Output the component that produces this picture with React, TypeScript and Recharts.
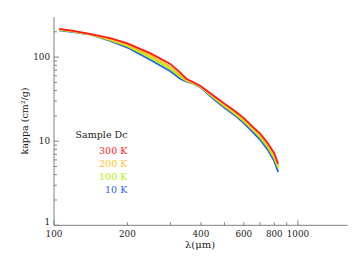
import React from 'react';
import { LineChart, Line, XAxis, YAxis } from 'recharts';

// wavelength in micrometres
const wavelengths = [105, 120, 140, 170, 200, 250, 300, 330, 350, 375, 400, 450, 500, 550, 600, 650, 700, 750, 800, 830];
// kappa (cm^2/g) for each temperature
const kappa300K = [217, 205, 189, 168, 146, 110, 83, 65, 55, 50, 45, 35, 28, 23, 18.8, 15, 12.3, 9.6, 7.2, 5.4];
const kappa200K = [214, 203, 188, 163, 140, 104, 77, 61, 53, 49, 44.5, 34, 27, 22, 18, 14.4, 11.7, 9.1, 6.8, 5.1];
const kappa100K = [211, 201, 187, 159, 135, 98, 72, 58, 52, 48.5, 44, 33, 26, 21.2, 17.2, 13.8, 11.1, 8.6, 6.3, 4.8];
const kappa10K = [208, 199, 186, 156, 130, 92, 68, 55, 51, 48, 43.5, 32, 25, 20.4, 16.4, 13, 10.4, 8.0, 5.8, 4.3];

const xTicks = [100, 200, 300, 400, 500, 600, 700, 800, 900, 1000];
const xTopTicks = [124.5, 160, 180, 400, 500, 600, 700, 800, 900, 1000];
const xLabels = [100, 200, 400, 600, 800, 1000];
const xMajor = [100, 1000];
const yTicks = [1, 2, 3, 4, 5, 6, 7, 8, 9, 10, 20, 30, 40, 50, 60, 70, 80, 90, 100, 200];
const yLabels = [1, 10, 100];
const yMajor = [1, 10, 100];

const seriesNames = ['300 K', '200 K', '100 K', '10 K'];
const seriesKeys = ['k300', 'k200', 'k100', 'k10'];
const seriesColors = ['#ff1a1a', '#ffc21c', '#b4f000', '#1f5eff'];

const data = wavelengths.map((l, i) => ({
  lambda: l,
  k300: kappa300K[i],
  k200: kappa200K[i],
  k100: kappa100K[i],
  k10: kappa10K[i],
}));

const AXIS = '#808080';
const TEXT = '#222';
const FONT = '"DejaVu Serif", serif';
const MAJ = 5;
const MIN = 3;

const BottomTick = (p: any) => {
  const v = p.payload.value;
  const len = xMajor.includes(v) ? MAJ : MIN;
  return (
    <g>
      <line x1={p.x} y1={p.y} x2={p.x} y2={p.y - len} stroke={AXIS} />
      {xLabels.includes(v) && (
        <text x={p.x} y={p.y + 11.5} textAnchor="middle" fontSize={8.8} fontFamily={FONT} fill={TEXT}>
          {v}
        </text>
      )}
    </g>
  );
};

const TopTick = (p: any) => {
  const v = p.payload.value;
  const len = xMajor.includes(v) ? MAJ : MIN;
  return <line x1={p.x} y1={p.y} x2={p.x} y2={p.y + len} stroke={AXIS} />;
};

const LeftTick = (p: any) => {
  const v = p.payload.value;
  const len = yMajor.includes(v) ? MAJ : MIN;
  const dy = v === 1 ? -0.8 : 3;
  return (
    <g>
      <line x1={p.x} y1={p.y} x2={p.x + len} y2={p.y} stroke={AXIS} />
      {yLabels.includes(v) && (
        <text x={p.x - 4} y={p.y + dy} textAnchor="end" fontSize={8.8} fontFamily={FONT} fill={TEXT}>
          {v}
        </text>
      )}
    </g>
  );
};

const RightTick = (p: any) => {
  const v = p.payload.value;
  const len = yMajor.includes(v) ? MAJ : MIN;
  return <line x1={p.x} y1={p.y} x2={p.x - len} y2={p.y} stroke={AXIS} />;
};

export default function App() {
  return (
    <div style={{ position: 'absolute', left: 0, top: 0, background: '#fff' }}>
      <LineChart width={364} height={260} data={data} margin={{ top: 17, right: 16.3, bottom: 0, left: 0 }}>
        <XAxis
          xAxisId="bottom"
          dataKey="lambda"
          type="number"
          scale="log"
          domain={[100, 1600]}
          allowDataOverflow
          ticks={xTicks}
          interval={0}
          tickSize={0}
          tickMargin={0}
          height={34.7}
          axisLine={{ stroke: AXIS }}
          tickLine={false}
          tick={(p: any) => <BottomTick {...p} />}
        />
        <XAxis
          xAxisId="top"
          orientation="top"
          type="number"
          scale="log"
          domain={[100, 1600]}
          allowDataOverflow
          ticks={xTopTicks}
          interval={0}
          tickSize={0}
          tickMargin={0}
          height={0}
          axisLine={{ stroke: AXIS }}
          tickLine={false}
          tick={(p: any) => <TopTick {...p} />}
        />
        <YAxis
          yAxisId="left"
          type="number"
          scale="log"
          domain={[1, 300]}
          allowDataOverflow
          ticks={yTicks}
          interval={0}
          tickSize={0}
          tickMargin={0}
          width={54}
          axisLine={{ stroke: AXIS }}
          tickLine={false}
          tick={(p: any) => <LeftTick {...p} />}
        />
        <YAxis
          yAxisId="right"
          orientation="right"
          type="number"
          scale="log"
          domain={[1, 300]}
          allowDataOverflow
          ticks={yTicks}
          interval={0}
          tickSize={0}
          tickMargin={0}
          width={0}
          axisLine={{ stroke: AXIS }}
          tickLine={false}
          tick={(p: any) => <RightTick {...p} />}
        />
        {[3, 2, 1, 0].map((i) => (
          <Line
            key={seriesKeys[i]}
            xAxisId="bottom"
            yAxisId="left"
            dataKey={seriesKeys[i]}
            stroke={seriesColors[i]}
            strokeWidth={1.8}
            dot={false}
            isAnimationActive={false}
            type="linear"
          />
        ))}
        <text x={200} y={247.5} textAnchor="middle" fontSize={10} fontFamily={FONT} fill={TEXT}>
          λ(μm)
        </text>
        <text
          x={28}
          y={121}
          transform="rotate(-90 28 121)"
          textAnchor="middle"
          fontSize={9.5}
          fontFamily={FONT}
          fill={TEXT}
        >
          kappa (cm²/g)
        </text>
        <text x={127.5} y={137.5} textAnchor="end" fontSize={9.5} fontFamily={FONT} fill={TEXT}>
          Sample Dc
        </text>
        {seriesNames.map((n, i) => (
          <text
            key={n}
            x={127.3}
            y={154 + i * 12.9}
            textAnchor="end"
            fontSize={9.5}
            fontFamily={FONT}
            fill={seriesColors[i]}
          >
            {n}
          </text>
        ))}
      </LineChart>
    </div>
  );
}
